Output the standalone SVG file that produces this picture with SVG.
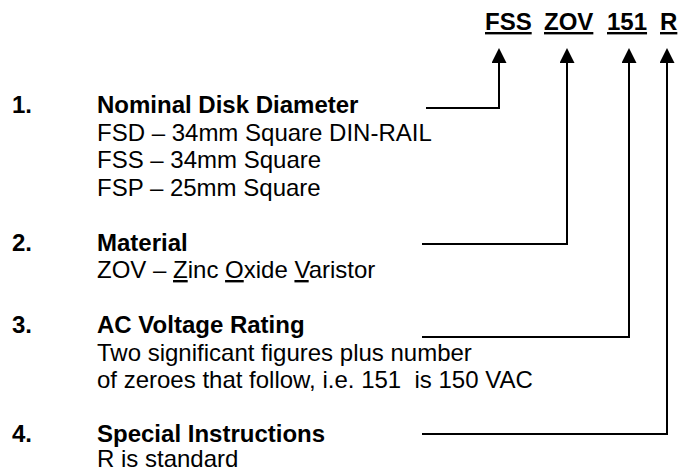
<svg xmlns="http://www.w3.org/2000/svg" width="681" height="472" viewBox="0 0 681 472">
  <style>
    text { font-family: "Liberation Sans", Arial, sans-serif; font-size: 24px; fill: #000; }
    .b { font-weight: bold; }
    .u { text-decoration: underline; }
    .conn { fill: none; stroke: #000; stroke-width: 2; }
  </style>
  <defs>
    <marker id="arrow" viewBox="0 0 15 15" refX="1" refY="7.5" markerWidth="15" markerHeight="15" markerUnits="userSpaceOnUse" orient="auto">
      <polygon points="0,0 15,7.5 0,15" fill="#000"/>
    </marker>
  </defs>
  <rect width="681" height="472" fill="#fff"/>

  <g id="code">
    <text class="b u" x="485" y="30">FSS</text>
    <text class="b u" x="544" y="30">ZOV</text>
    <text class="b u" x="607" y="30">151</text>
    <text class="b u" x="660" y="30">R</text>
  </g>

  <g id="item1">
    <text class="b" x="12" y="113">1.</text>
    <text class="b" x="97" y="113">Nominal Disk Diameter</text>
    <text x="97" y="140.5">FSD – 34mm Square DIN-RAIL</text>
    <text x="97" y="168">FSS – 34mm Square</text>
    <text x="97" y="195.5">FSP – 25mm Square</text>
  </g>

  <g id="item2">
    <text class="b" x="12" y="250.5">2.</text>
    <text class="b" x="97" y="250.5">Material</text>
    <text x="97" y="278">ZOV – <tspan class="u">Z</tspan>inc <tspan class="u">O</tspan>xide <tspan class="u">V</tspan>aristor</text>
  </g>

  <g id="item3">
    <text class="b" x="12" y="333">3.</text>
    <text class="b" x="97" y="333">AC Voltage Rating</text>
    <text x="97" y="360.5">Two significant figures plus number</text>
    <text x="97" y="388" xml:space="preserve">of zeroes that follow, i.e. 151  is 150 VAC</text>
  </g>

  <g id="item4">
    <text class="b" x="12" y="442">4.</text>
    <text class="b" x="97" y="442">Special Instructions</text>
    <text x="97" y="466.5">R is standard</text>
  </g>

  <g id="connectors">
    <path class="conn" d="M426,108 H499 V62" marker-end="url(#arrow)"/>
    <path class="conn" d="M422,244 H567 V62" marker-end="url(#arrow)"/>
    <path class="conn" d="M422,337 H629 V62" marker-end="url(#arrow)"/>
    <path class="conn" d="M422,434 H667 V62" marker-end="url(#arrow)"/>
  </g>
</svg>
